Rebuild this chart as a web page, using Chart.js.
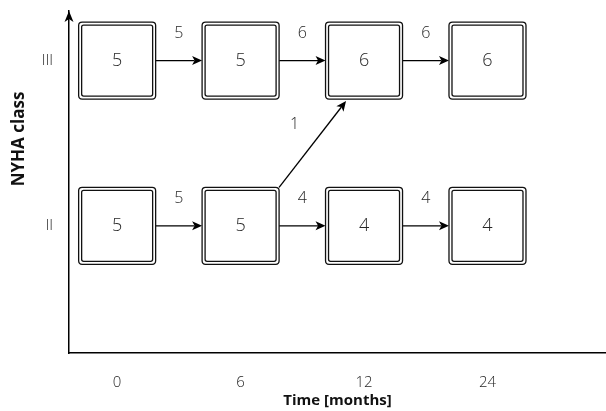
<!DOCTYPE html>
<html><head><meta charset="utf-8">
<script src="https://cdn.jsdelivr.net/npm/chart.js@4"></script>
<style>html,body{margin:0;padding:0;background:#fff}#wrap{width:606px;height:411px}</style>
</head><body><div id="wrap"><canvas id="c"></canvas></div>
<script>
// ---- data ----
const timeLabels = ['0', '6', '12', '24'];
const classLabels = ['II', 'III'];
const classValues = [2, 3];
const countsIII = [5, 5, 6, 6];
const countsII = [5, 5, 4, 4];
const flowIII = [5, 6, 6];
const flowII = [5, 4, 4];
// cross transition: from (time index, class value) to (time index, class value)
const crossFrom = [1, 2];
const crossTo = [2, 3];
const crossCount = [1];

const FONT = '"Open Sans", "DejaVu Sans", sans-serif';
const TXT = '#262626';
const HALF = 38.5;

function rrect(ctx, x, y, w, h, r) {
  ctx.beginPath();
  ctx.moveTo(x + r, y);
  ctx.lineTo(x + w - r, y); ctx.quadraticCurveTo(x + w, y, x + w, y + r);
  ctx.lineTo(x + w, y + h - r); ctx.quadraticCurveTo(x + w, y + h, x + w - r, y + h);
  ctx.lineTo(x + r, y + h); ctx.quadraticCurveTo(x, y + h, x, y + h - r);
  ctx.lineTo(x, y + r); ctx.quadraticCurveTo(x, y, x + r, y);
  ctx.closePath();
}
function arrow(ctx, x1, y1, x2, y2) {
  const a = Math.atan2(y2 - y1, x2 - x1);
  const len = 10, w = 4.5;
  const c = Math.cos(a), s = Math.sin(a);
  const bx = x2 - len * 0.75 * c, by = y2 - len * 0.75 * s;
  ctx.strokeStyle = '#000'; ctx.lineWidth = 1.3;
  ctx.beginPath(); ctx.moveTo(x1, y1); ctx.lineTo(bx, by); ctx.stroke();
  ctx.fillStyle = '#000';
  ctx.beginPath();
  ctx.moveTo(x2, y2);
  ctx.lineTo(x2 - len * c - w * s, y2 - len * s + w * c);
  ctx.lineTo(bx, by);
  ctx.lineTo(x2 - len * c + w * s, y2 - len * s - w * c);
  ctx.closePath(); ctx.fill();
}
function box(ctx, cx, cy, label) {
  ctx.save();
  ctx.fillStyle = '#fff';
  ctx.strokeStyle = '#111';
  ctx.lineWidth = 1.3;
  rrect(ctx, cx - HALF, cy - HALF, HALF * 2, HALF * 2, 3.5);
  ctx.fill(); ctx.stroke();
  rrect(ctx, cx - HALF + 3, cy - HALF + 3, HALF * 2 - 6, HALF * 2 - 6, 2);
  ctx.stroke();
  ctx.fillStyle = TXT;
  ctx.font = '300 18px ' + FONT;
  ctx.textAlign = 'center'; ctx.textBaseline = 'middle';
  ctx.fillText(label, cx, cy);
  ctx.restore();
}
function text(ctx, s, x, y, size) {
  ctx.save();
  ctx.fillStyle = TXT;
  ctx.font = '300 ' + size + 'px ' + FONT;
  ctx.textAlign = 'center'; ctx.textBaseline = 'middle';
  ctx.fillText(s, x, y);
  ctx.restore();
}

const diagramPlugin = {
  id: 'diagram',
  afterDraw(chart) {
    const ctx = chart.ctx;
    const area = chart.chartArea;
    const xs = chart.scales.x, ys = chart.scales.y;
    // y-axis arrow head
    ctx.save();
    ctx.fillStyle = '#000';
    const ax = xs.left;
    ctx.beginPath();
    ctx.moveTo(ax, area.top);
    ctx.lineTo(ax - 4.5, area.top + 11);
    ctx.lineTo(ax, area.top + 8);
    ctx.lineTo(ax + 4.5, area.top + 11);
    ctx.closePath(); ctx.fill();
    // y title
    ctx.translate(19, 139);
    ctx.rotate(-Math.PI / 2);
    ctx.font = 'bold 17px ' + FONT;
    ctx.fillStyle = '#111';
    ctx.textAlign = 'center'; ctx.textBaseline = 'middle';
    ctx.fillText('NYHA class', 0, 0);
    ctx.restore();

    const rows = [
      {meta: chart.getDatasetMeta(0), counts: countsIII, flow: flowIII},
      {meta: chart.getDatasetMeta(1), counts: countsII, flow: flowII}
    ];
    rows.forEach(r => {
      const pts = r.meta.data;
      r.flow.forEach((n, i) => {
        const p = pts[i], q = pts[i + 1];
        const x1 = p.x + HALF, x2 = q.x - HALF;
        arrow(ctx, x1, p.y, x2, q.y);
        text(ctx, String(n), (x1 + x2) / 2, p.y - 27, 16);
      });
    });
    // cross transition
    const sx = xs.getPixelForValue(crossFrom[0]), sy = ys.getPixelForValue(crossFrom[1]);
    const ex = xs.getPixelForValue(crossTo[0]), ey = ys.getPixelForValue(crossTo[1]);
    const x1 = sx + HALF, y1 = sy - HALF;
    const x2 = ex - 18, y2 = ey + HALF + 2;
    arrow(ctx, x1, y1, x2, y2);
    text(ctx, String(crossCount[0]), (x1 + x2) / 2 - 18, (y1 + y2) / 2 - 20, 16);

    rows.forEach(r => {
      r.meta.data.forEach((p, i) => box(ctx, p.x, p.y, String(r.counts[i])));
    });
  }
};

new Chart(document.getElementById('c'), {
  type: 'scatter',
  data: {
    datasets: [
      {label: 'III', data: countsIII.map((c, i) => ({x: i, y: classValues[1]})), pointRadius: 0},
      {label: 'II', data: countsII.map((c, i) => ({x: i, y: classValues[0]})), pointRadius: 0}
    ]
  },
  options: {
    responsive: true,
    maintainAspectRatio: false,
    animation: false,
    events: [],
    layout: {padding: {top: 11, left: 0, right: 0, bottom: 0}},
    plugins: {legend: {display: false}, tooltip: {enabled: false}},
    scales: {
      x: {
        type: 'linear', min: -0.39, max: 3.96,
        grid: {display: false},
        border: {display: true, color: '#000', width: 1.5},
        afterBuildTicks: s => { s.ticks = timeLabels.map((t, i) => ({value: i})); },
        afterFit: s => { s.height = 58; s.paddingLeft = 0; s.paddingRight = 0; },
        ticks: {
          padding: 13, color: TXT,
          font: {family: FONT, size: 15, weight: '300'},
          callback: v => timeLabels[v]
        },
        title: {display: true, text: 'Time [months]', color: '#111',
          font: {family: FONT, size: 15, weight: 'bold'}, padding: {top: 0, bottom: 1}}
      },
      y: {
        type: 'linear', min: 1.23, max: 3.30,
        grid: {display: false},
        border: {display: true, color: '#000', width: 1.5},
        afterBuildTicks: s => { s.ticks = classValues.map(v => ({value: v})); },
        afterFit: s => { s.width = 69; s.paddingTop = 0; s.paddingBottom = 0; },
        ticks: {
          padding: 8, color: TXT,
          font: {family: FONT, size: 15, weight: '300'},
          callback: v => classLabels[classValues.indexOf(v)]
        }
      }
    }
  },
  plugins: [diagramPlugin]
});
</script>
</body></html>
